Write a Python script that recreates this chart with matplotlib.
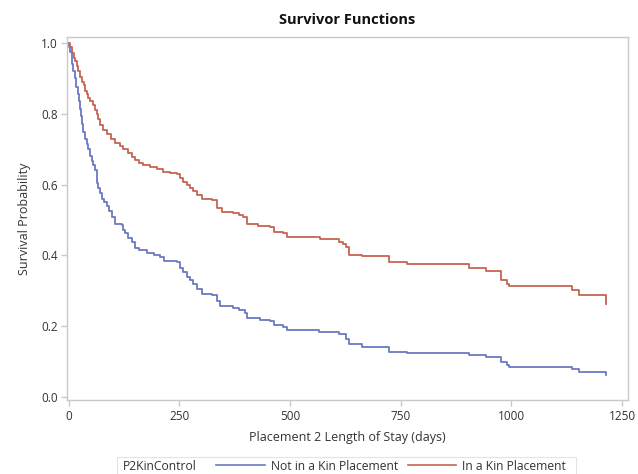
import matplotlib
matplotlib.use("Agg")
import matplotlib.pyplot as plt
from matplotlib.lines import Line2D
from matplotlib.patches import Rectangle

plt.rcParams['font.family'] = ['Open Sans', 'DejaVu Sans']

title = "Survivor Functions"
xlabel = "Placement 2 Length of Stay (days)"
ylabel = "Survival Probability"
legend_title = "P2KinControl"
labels = ["Not in a Kin Placement", "In a Kin Placement"]
xticks = [0, 250, 500, 750, 1000, 1250]
yticks = [0.0, 0.2, 0.4, 0.6, 0.8, 1.0]

not_kin_days = [0, 2, 4, 7, 9, 11, 14, 18, 21, 24, 26, 28, 30, 33, 37, 41, 45, 49, 52, 56,
                60, 64, 67, 71, 76, 81, 86, 92, 98, 105, 120, 124, 128, 135, 143, 150, 160,
                177, 192, 207, 215, 244, 252, 259, 267, 275, 282, 290, 301, 323, 335, 343,
                372, 385, 399, 403, 433, 455, 463, 485, 493, 565, 611, 626, 633, 663, 724,
                765, 905, 942, 976, 990, 995, 1138, 1153, 1214]
not_kin_surv = [1.0, 0.99, 0.975, 0.958, 0.94, 0.92, 0.90, 0.875, 0.855, 0.835, 0.815, 0.795,
                0.77, 0.75, 0.73, 0.715, 0.70, 0.68, 0.668, 0.655, 0.64, 0.605, 0.59, 0.575,
                0.56, 0.55, 0.54, 0.525, 0.508, 0.49, 0.485, 0.472, 0.462, 0.45, 0.438, 0.42,
                0.415, 0.408, 0.402, 0.395, 0.385, 0.38, 0.365, 0.352, 0.34, 0.33, 0.32, 0.305,
                0.292, 0.288, 0.27, 0.258, 0.252, 0.245, 0.238, 0.222, 0.218, 0.214, 0.203,
                0.198, 0.188, 0.184, 0.178, 0.165, 0.15, 0.142, 0.128, 0.125, 0.12, 0.114,
                0.098, 0.09, 0.086, 0.078, 0.071, 0.062]

kin_days = [0, 3, 7, 12, 15, 19, 22, 26, 30, 34, 37, 41, 45, 49, 55, 60, 64, 67, 71, 78, 86,
            95, 105, 116, 124, 135, 143, 150, 160, 169, 185, 199, 214, 229, 244, 252, 259,
            267, 275, 282, 290, 301, 323, 335, 346, 372, 385, 395, 403, 429, 455, 463, 485,
            493, 569, 611, 620, 626, 633, 663, 724, 765, 905, 942, 976, 990, 995, 1138, 1153,
            1214]
kin_surv = [1.0, 0.99, 0.972, 0.958, 0.948, 0.935, 0.92, 0.905, 0.89, 0.88, 0.865, 0.855,
            0.845, 0.835, 0.825, 0.812, 0.80, 0.785, 0.768, 0.755, 0.742, 0.73, 0.718, 0.708,
            0.70, 0.69, 0.678, 0.67, 0.662, 0.655, 0.65, 0.645, 0.636, 0.634, 0.63, 0.618,
            0.608, 0.598, 0.59, 0.583, 0.572, 0.56, 0.557, 0.535, 0.524, 0.519, 0.514, 0.508,
            0.49, 0.483, 0.48, 0.467, 0.462, 0.451, 0.446, 0.439, 0.432, 0.425, 0.40, 0.397,
            0.382, 0.376, 0.364, 0.357, 0.33, 0.318, 0.314, 0.303, 0.288, 0.263]

blue = "#6A7AC2"
red = "#C66453"
frame_col = "#C9C9C9"
text_col = "#333333"

fig = plt.figure(figsize=(6.38, 4.74), dpi=100)
ax = fig.add_axes([67 / 638, 1 - 400 / 474, (628 - 67) / 638, (400 - 37) / 474])

ax.plot(not_kin_days, not_kin_surv, drawstyle="steps-post", color=blue, lw=1.3)
ax.plot(kin_days, kin_surv, drawstyle="steps-post", color=red, lw=1.3)

ax.set_xlim(-3.4, 1263.5)
ax.set_ylim(-0.0085, 1.017)
ax.set_xticks(xticks)
ax.set_yticks(yticks)
ax.set_xticklabels([str(t) for t in xticks])
ax.set_yticklabels([f"{t:.1f}" for t in yticks])
for s in ax.spines.values():
    s.set_color(frame_col)
    s.set_linewidth(1.0)
ax.tick_params(axis="both", colors=frame_col, labelcolor=text_col, labelsize=8.5,
               length=4, width=1.0)
ax.tick_params(axis="y", pad=2.5)
ax.tick_params(axis="x", pad=3)
ax.set_xlabel(xlabel, fontsize=9, color=text_col, labelpad=6)
ax.set_ylabel(ylabel, fontsize=9, color=text_col, labelpad=7)
fig.text(347 / 638, 1 - 20 / 474, title, ha="center", va="center", fontsize=10.5,
         fontweight="bold", color="#111111")

# legend
fig.patches.append(Rectangle((117 / 638, 1 - 476 / 474), (576 - 117) / 638, 19 / 474,
                             transform=fig.transFigure, fill=False,
                             edgecolor="#E4E4E4", lw=0.8))
fig.text(123 / 638, 1 - 466 / 474, legend_title, ha="left", va="center",
         fontsize=8.75, color=text_col)
handles = [Line2D([], [], color=blue, lw=1.2), Line2D([], [], color=red, lw=1.2)]
fig.legend(handles, labels, loc="center left", bbox_to_anchor=(216 / 638, 1 - 466 / 474),
           ncol=2, frameon=False, fontsize=8.75, handlelength=4.0, handletextpad=0.5,
           columnspacing=0.8, borderpad=0, borderaxespad=0, labelcolor=text_col)

fig.savefig("out.png", dpi=100)
